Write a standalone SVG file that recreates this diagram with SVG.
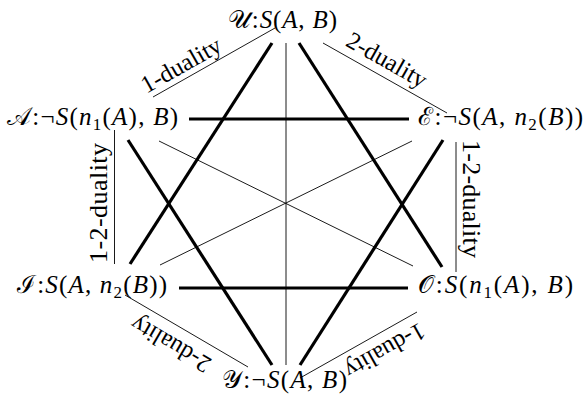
<svg xmlns="http://www.w3.org/2000/svg" width="586" height="401" viewBox="0 0 586 401">
<style>
.bg{fill:#fff}
.thin{stroke:#000;stroke-width:0.9;fill:none}
.thick{stroke:#000;stroke-width:3.2;fill:none;stroke-linecap:butt}
.node{font-family:"Liberation Serif","DejaVu Serif",serif;font-size:25px;fill:#000}
.it{font-style:italic}
.cal{font-family:"DejaVu Serif","Liberation Serif",serif;font-style:normal}
.sub{font-size:17px}
.lab{font-family:"Liberation Serif","DejaVu Serif",serif;font-size:24.5px;fill:#000;text-anchor:middle}
.labv{font-size:26px}
</style>
<rect class="bg" x="0" y="0" width="586" height="401"/>
<g id="connectors">
  <line class="thin" x1="286" y1="43" x2="286" y2="365"/>
  <line class="thin" x1="159" y1="141" x2="413" y2="266"/>
  <line class="thin" x1="412" y1="141" x2="160" y2="265"/>
  <line class="thin" x1="153" y1="97" x2="275" y2="28"/>
  <line class="thin" x1="323" y1="43" x2="447" y2="113"/>
  <line class="thin" x1="114.5" y1="130" x2="114.5" y2="264"/>
  <line class="thin" x1="456" y1="142" x2="456" y2="272"/>
  <line class="thin" x1="125" y1="295" x2="248" y2="367"/>
  <line class="thin" x1="300" y1="378" x2="417" y2="312"/>
  <line class="thick" x1="272" y1="43" x2="130" y2="264"/>
  <line class="thick" x1="299" y1="43" x2="442" y2="267"/>
  <line class="thick" x1="128" y1="140" x2="272" y2="365"/>
  <line class="thick" x1="443" y1="140" x2="300" y2="365"/>
  <line class="thick" x1="189" y1="119" x2="409" y2="119"/>
  <line class="thick" x1="179" y1="288" x2="408" y2="288"/>
  <text class="lab" transform="translate(185,72) rotate(-29.5)">1-duality</text>
  <text class="lab" transform="translate(383,67) rotate(29.5)">2-duality</text>
  <text class="lab labv" transform="translate(107,203) rotate(-90)" textLength="120">1-2-duality</text>
  <text class="lab labv" transform="translate(463,199) rotate(90)" textLength="118">1-2-duality</text>
  <text class="lab" transform="translate(174.5,337.5) rotate(210.3)">2-duality</text>
  <text class="lab" transform="translate(381,344) rotate(150.6)">1-duality</text>
</g>
<g id="node-U">
  <text class="node" x="282.5" y="28" text-anchor="middle" textLength="109"><tspan class="cal">𝒰</tspan>:<tspan class="it">S</tspan>(<tspan class="it">A</tspan>, <tspan class="it">B</tspan>)</text>
</g>
<g id="node-A">
  <text class="node" x="178" y="125" text-anchor="end" textLength="171"><tspan class="cal">𝒜</tspan>:¬<tspan class="it">S</tspan>(<tspan class="it">n</tspan><tspan class="sub" dy="5">1</tspan><tspan dy="-5">(</tspan><tspan class="it">A</tspan>), <tspan class="it">B</tspan>)</text>
</g>
<g id="node-E">
  <text class="node" x="418" y="125" textLength="165"><tspan class="cal">ℰ</tspan>:¬<tspan class="it">S</tspan>(<tspan class="it">A</tspan>, <tspan class="it">n</tspan><tspan class="sub" dy="5">2</tspan><tspan dy="-5">(</tspan><tspan class="it">B</tspan>))</text>
</g>
<g id="node-I">
  <text class="node" x="167" y="293" text-anchor="end" textLength="150"><tspan class="cal">ℐ</tspan>:<tspan class="it">S</tspan>(<tspan class="it">A</tspan>, <tspan class="it">n</tspan><tspan class="sub" dy="5">2</tspan><tspan dy="-5">(</tspan><tspan class="it">B</tspan>))</text>
</g>
<g id="node-O">
  <text class="node" x="418" y="293" textLength="155"><tspan class="cal">𝒪</tspan>:<tspan class="it">S</tspan>(<tspan class="it">n</tspan><tspan class="sub" dy="5">1</tspan><tspan dy="-5">(</tspan><tspan class="it">A</tspan>), <tspan class="it">B</tspan>)</text>
</g>
<g id="node-Y">
  <text class="node" x="284.5" y="388" text-anchor="middle" textLength="125"><tspan class="cal">𝒴</tspan>:¬<tspan class="it">S</tspan>(<tspan class="it">A</tspan>, <tspan class="it">B</tspan>)</text>
</g>
</svg>
